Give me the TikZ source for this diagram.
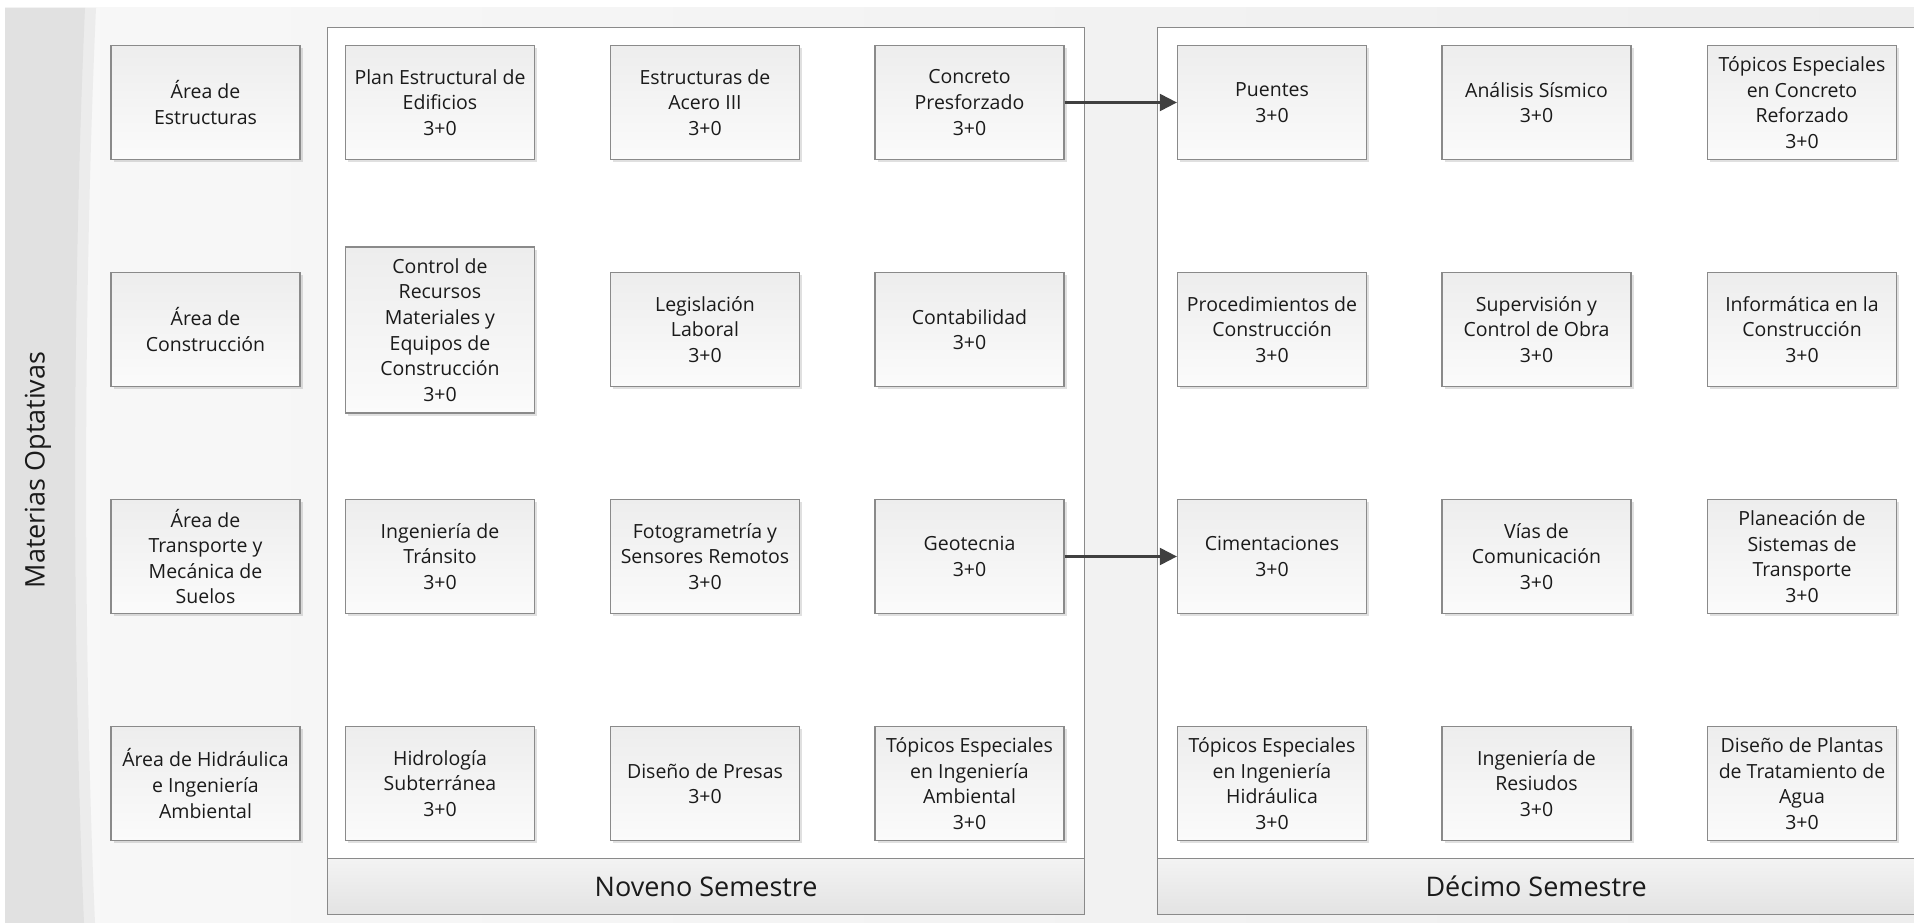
\documentclass[tikz,border=0pt]{standalone}
\usepackage{fontspec}
\setmainfont{Open Sans}
\usetikzlibrary{arrows.meta,shadows}
\definecolor{panelL}{HTML}{F8F8F8}
\definecolor{panelR}{HTML}{EEEEEE}
\definecolor{band}{HTML}{E1E1E1}
\definecolor{bandlight}{HTML}{ECECEC}
\definecolor{edge}{HTML}{8A8A8A}
\definecolor{boxtop}{HTML}{EDEDED}
\definecolor{boxbot}{HTML}{FBFBFB}
\definecolor{hdrtop}{HTML}{F3F3F3}
\definecolor{hdrbot}{HTML}{E3E3E3}
\definecolor{txt}{HTML}{1A1A1A}
\definecolor{arr}{HTML}{404040}
\tikzset{
  x=1pt, y=-1pt,
  course/.style={draw=edge, line width=1.3pt, top color=boxtop, bottom color=boxbot,
    minimum width=189pt, minimum height=114pt, inner sep=2pt, align=center,
    text=txt, font=\fontsize{19.5}{25.6}\selectfont,
    drop shadow={shadow xshift=2.5pt, shadow yshift=-2.5pt, fill=black, opacity=0.12}},
  tall/.style={minimum height=166pt},
  container/.style={draw=edge, line width=1.3pt, fill=white},
  header/.style={draw=edge, line width=1.3pt, top color=hdrtop, bottom color=hdrbot,
    text=txt, font=\fontsize{27}{32}\selectfont},
  link/.style={draw=arr, line width=2.2pt, -{Triangle[length=17pt,width=17pt]}},
}
\begin{document}
\begin{tikzpicture}
\useasboundingbox (0,0) rectangle (1914,923);
\fill[white] (0,0) rectangle (1914,923);
% background panel and band
\shade[left color=panelL, right color=panelR] (5,8) rectangle (1914,923);
\fill[bandlight] (5,8) -- (96,8) .. controls (83,300) and (83,650) .. (95,923) -- (5,923) -- cycle;
\fill[band] (5,8) -- (85,8) .. controls (72,300) and (72,650) .. (84,923) -- (5,923) -- cycle;
\node[rotate=90, text=txt, font=\fontsize{27}{32}\selectfont] (lbl) at (38,470) {Materias Optativas};
% containers
\node[container, minimum width=757pt, minimum height=887pt, anchor=north west] (nov) at (327,27) {};
\node[container, minimum width=757pt, minimum height=887pt, anchor=north west] (dec) at (1157,27) {};
\node[header, minimum width=757pt, minimum height=56pt, anchor=north west] (novh) at (327,858) {Noveno Semestre};
\node[header, minimum width=757pt, minimum height=56pt, anchor=north west] (dech) at (1157,858) {Décimo Semestre};
% area column
\node[course] (a1) at (205.5,102.5) {Área de\\Estructuras};
\node[course] (a2) at (205.5,329.5) {Área de\\Construcción};
\node[course] (a3) at (205.5,556.5) {Área de\\Transporte y\\Mecánica de\\Suelos};
\node[course] (a4) at (205.5,783.5) {Área de Hidráulica\\e Ingeniería\\Ambiental};
% noveno
\node[course] (n11) at (440,102.5) {Plan Estructural de\\Edificios\\3+0};
\node[course] (n12) at (705,102.5) {Estructuras de\\Acero III\\3+0};
\node[course] (n13) at (969.5,102.5) {Concreto\\Presforzado\\3+0};
\node[course, tall] (n21) at (440,330) {Control de\\Recursos\\Materiales y\\Equipos de\\Construcción\\3+0};
\node[course] (n22) at (705,329.5) {Legislación\\Laboral\\3+0};
\node[course] (n23) at (969.5,329.5) {Contabilidad\\3+0};
\node[course] (n31) at (440,556.5) {Ingeniería de\\Tránsito\\3+0};
\node[course] (n32) at (705,556.5) {Fotogrametría y\\Sensores Remotos\\3+0};
\node[course] (n33) at (969.5,556.5) {Geotecnia\\3+0};
\node[course] (n41) at (440,783.5) {Hidrología\\Subterránea\\3+0};
\node[course] (n42) at (705,783.5) {Diseño de Presas\\3+0};
\node[course] (n43) at (969.5,783.5) {Tópicos Especiales\\en Ingeniería\\Ambiental\\3+0};
% decimo
\node[course] (d11) at (1272,102.5) {Puentes\\3+0};
\node[course] (d12) at (1536.5,102.5) {Análisis Sísmico\\3+0};
\node[course] (d13) at (1802,102.5) {Tópicos Especiales\\en Concreto\\Reforzado\\3+0};
\node[course] (d21) at (1272,329.5) {Procedimientos de\\Construcción\\3+0};
\node[course] (d22) at (1536.5,329.5) {Supervisión y\\Control de Obra\\3+0};
\node[course] (d23) at (1802,329.5) {Informática en la\\Construcción\\3+0};
\node[course] (d31) at (1272,556.5) {Cimentaciones\\3+0};
\node[course] (d32) at (1536.5,556.5) {Vías de\\Comunicación\\3+0};
\node[course] (d33) at (1802,556.5) {Planeación de\\Sistemas de\\Transporte\\3+0};
\node[course] (d41) at (1272,783.5) {Tópicos Especiales\\en Ingeniería\\Hidráulica\\3+0};
\node[course] (d42) at (1536.5,783.5) {Ingeniería de\\Resiudos\\3+0};
\node[course] (d43) at (1802,783.5) {Diseño de Plantas\\de Tratamiento de\\Agua\\3+0};
% connectors
\draw[link] (n13.east) -- (d11.west);
\draw[link] (n33.east) -- (d31.west);
\end{tikzpicture}
\end{document}
